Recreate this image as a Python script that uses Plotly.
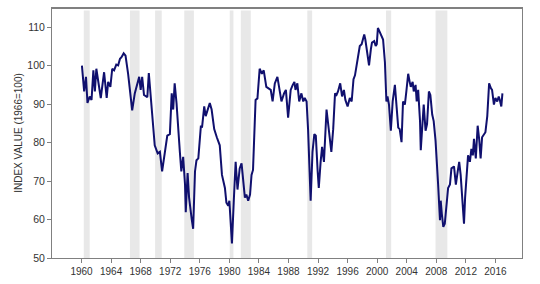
import plotly.graph_objects as go

# Consumer sentiment index (1966=100), decimal years
years = [
    1960.05, 1960.35, 1960.6, 1960.8, 1961.1, 1961.35, 1961.6, 1961.8, 1962.0, 1962.25,
    1962.6, 1963.05, 1963.4, 1963.6, 1963.9, 1964.15, 1964.4, 1964.7, 1964.95, 1965.2,
    1965.4, 1965.7, 1965.95, 1966.3, 1966.85, 1967.2, 1967.6, 1967.8, 1968.0, 1968.2,
    1968.45, 1968.7, 1968.9, 1969.1, 1969.4, 1969.9, 1970.3, 1970.6, 1970.9, 1971.3,
    1971.6, 1971.95, 1972.2, 1972.4, 1972.6, 1972.85, 1973.1, 1973.3, 1973.5, 1973.75,
    1974.0, 1974.1, 1974.35, 1974.55, 1974.9, 1975.1, 1975.35, 1975.55, 1975.8, 1976.15,
    1976.3, 1976.6, 1976.8, 1977.05, 1977.35, 1977.6, 1977.95, 1978.3, 1978.7, 1979.0,
    1979.4, 1979.6, 1979.85, 1980.0, 1980.15, 1980.35, 1980.6, 1980.85, 1981.1, 1981.4,
    1981.65, 1981.85, 1982.1, 1982.3, 1982.55, 1982.8, 1983.0, 1983.2, 1983.55, 1983.8,
    1984.1, 1984.4, 1984.65, 1985.0, 1985.35, 1985.6, 1985.85, 1986.15, 1986.5, 1986.75,
    1987.05, 1987.4, 1987.65, 1987.95, 1988.3, 1988.55, 1988.8, 1988.95, 1989.2, 1989.45,
    1989.75, 1990.0, 1990.2, 1990.45, 1990.65, 1991.0, 1991.25, 1991.5, 1991.7, 1991.95,
    1992.1, 1992.35, 1992.55, 1992.8, 1993.15, 1993.35, 1993.6, 1993.8, 1994.05, 1994.3,
    1994.5, 1994.7, 1995.0, 1995.25, 1995.5, 1995.7, 1996.0, 1996.3, 1996.55, 1996.8,
    1997.0, 1997.35, 1997.65, 1997.9, 1998.1, 1998.25, 1998.4, 1998.7, 1998.9, 1999.15,
    1999.3, 1999.6, 1999.8, 1999.95, 2000.1, 2000.3, 2000.6, 2000.8, 2001.05, 2001.25,
    2001.4, 2001.6, 2001.85, 2002.1, 2002.4, 2002.6, 2002.85, 2003.05, 2003.3, 2003.5,
    2003.75, 2003.95, 2004.2, 2004.4, 2004.55, 2004.8, 2004.95, 2005.2, 2005.35, 2005.55,
    2005.8, 2005.9, 2006.1, 2006.3, 2006.55, 2006.75, 2007.0, 2007.2, 2007.45, 2007.65,
    2007.9, 2008.05, 2008.25, 2008.5, 2008.6, 2008.75, 2008.95, 2009.15, 2009.4, 2009.6,
    2009.85, 2010.05, 2010.4, 2010.65, 2010.9, 2011.1, 2011.3, 2011.55, 2011.75, 2011.9,
    2012.1, 2012.3, 2012.55, 2012.75, 2012.95, 2013.1, 2013.35, 2013.6, 2013.8, 2014.0,
    2014.2, 2014.45, 2014.65, 2014.9, 2015.15, 2015.4, 2015.55, 2015.8, 2016.0, 2016.25,
    2016.45, 2016.6, 2016.8, 2016.95,
]
index_values = [
    100.0, 93.3, 97.1, 90.3, 92.0, 91.1, 98.8, 93.3, 99.2, 95.4,
    91.6, 98.3, 91.6, 95.8, 94.5, 99.2, 98.8, 100.3, 100.1, 101.8,
    102.2, 103.2, 102.6, 97.9, 88.4, 92.8, 95.8, 97.1, 93.7, 97.1,
    92.4, 92.0, 91.8, 98.1, 90.3, 79.3, 77.2, 77.6, 72.5, 78.4,
    81.8, 82.2, 92.8, 88.6, 95.4, 90.3, 81.8, 77.6, 72.5, 76.3,
    69.1, 61.9, 72.1, 65.7, 60.2, 57.6, 72.5, 75.4, 75.9, 84.4,
    83.9, 89.4, 86.9, 88.6, 90.3, 88.6, 83.5, 81.4, 79.3, 71.6,
    68.2, 64.4, 63.6, 64.9, 58.9, 53.8, 64.9, 75.0, 67.8, 73.3,
    74.6, 70.8, 65.7, 66.5, 64.9, 66.5, 71.6, 72.9, 91.1, 91.5,
    99.2, 97.9, 98.8, 94.5, 94.1, 93.7, 90.7, 95.4, 97.1, 93.7,
    90.7, 92.8, 93.7, 86.5, 93.7, 94.9, 95.8, 93.7, 95.4, 90.7,
    92.8, 90.7, 91.6, 90.7, 83.5, 64.9, 77.6, 82.2, 81.8, 72.5,
    68.2, 75.0, 78.9, 75.0, 88.6, 85.2, 81.0, 77.6, 83.5, 92.8,
    92.4, 93.3, 95.4, 92.0, 93.7, 91.1, 89.4, 91.6, 90.7, 96.5,
    97.5, 101.8, 105.1, 105.6, 106.8, 108.1, 106.8, 103.4, 100.1, 104.3,
    106.0, 106.4, 105.1, 105.6, 109.8, 109.0, 107.7, 106.8, 100.9, 90.7,
    92.0, 89.9, 83.1, 90.7, 95.0, 90.7, 83.9, 83.5, 80.1, 90.7,
    89.9, 93.3, 97.9, 95.8, 94.5, 95.8, 93.3, 95.0, 90.7, 93.7,
    85.6, 78.0, 85.6, 89.9, 83.1, 84.8, 93.3, 92.4, 87.3, 85.6,
    80.5, 76.7, 69.1, 59.8, 64.9, 61.5, 58.1, 58.9, 64.9, 68.2,
    69.1, 73.3, 73.8, 69.1, 72.5, 75.0, 71.6, 65.7, 58.9, 65.7,
    72.5, 76.7, 75.0, 78.4, 76.7, 81.0, 75.9, 84.4, 81.0, 75.9,
    81.4, 82.2, 82.7, 86.9, 95.4, 94.1, 93.7, 89.9, 91.6, 90.7,
    92.0, 91.1, 89.4, 92.8,
]

# Recession periods (decimal years)
recession_start = [1960.3, 1966.55, 1969.95, 1973.9, 1980.05, 1981.55, 1990.55, 2001.2, 2007.9]
recession_end = [1961.1, 1967.85, 1970.85, 1975.2, 1980.55, 1982.9, 1991.2, 2001.9, 2009.5]

x_ticks = list(range(1960, 2017, 4))
y_ticks = [50, 60, 70, 80, 90, 100, 110]

fig = go.Figure()
fig.add_trace(go.Scatter(
    x=years, y=index_values, mode="lines",
    line=dict(color="#10106e", width=2), hoverinfo="skip", showlegend=False,
))

shapes = []
for s, e in zip(recession_start, recession_end):
    shapes.append(dict(type="rect", xref="x", yref="paper", x0=s, x1=e, y0=0, y1=0.99,
                       fillcolor="#e8e8e8", line=dict(width=0), layer="below"))
shapes.append(dict(type="line", xref="paper", yref="paper", x0=0, x1=1, y0=1, y1=1,
                   line=dict(color="#808080", width=2)))

fig.update_layout(
    width=540, height=284,
    margin=dict(l=52, r=18, t=7, b=22),
    paper_bgcolor="white", plot_bgcolor="white",
    font=dict(family="Liberation Sans, Arial, sans-serif", size=10, color="#333"),
    shapes=shapes,
    xaxis=dict(range=[1956, 2019.6], tickmode="array", tickvals=x_ticks,
               ticktext=[str(t) for t in x_ticks], showgrid=False, zeroline=False,
               showline=True, linecolor="#808080", linewidth=1, mirror=True,
               ticks="outside", ticklen=4, tickcolor="#808080",
               tickfont=dict(size=10, color="#333")),
    yaxis=dict(range=[50, 115], tickmode="array", tickvals=y_ticks,
               showgrid=False, zeroline=False,
               showline=True, linecolor="#808080", linewidth=1, mirror=True,
               ticks="outside", ticklen=4, tickcolor="#808080",
               tickfont=dict(size=10.5, color="#333"),
               title=dict(text="INDEX VALUE (1966=100)", font=dict(size=10, color="#333"),
                          standoff=2)),
)

fig.write_html("out.html")
